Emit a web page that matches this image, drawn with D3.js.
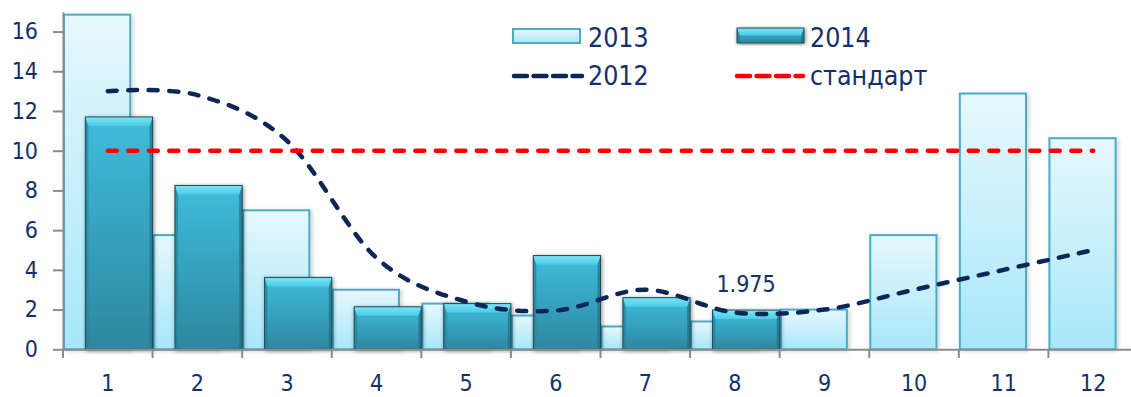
<!DOCTYPE html>
<html>
<head>
<meta charset="utf-8">
<script src="https://cdn.jsdelivr.net/npm/d3@7"></script>
<style>
  body { margin: 0; background: #fff; }
  svg { display: block; }
  .tick text { font-family: "DejaVu Sans Condensed", "DejaVu Sans", sans-serif; fill: #14306a; }
</style>
</head>
<body>
<script>
var categories = ['1','2','3','4','5','6','7','8','9','10','11','12']
var values2013 = [16.85, 5.75, 7.0, 3.0, 2.3, 1.7, 1.15, 1.4, 2.0, 5.75, 12.88, 10.63]
var values2014 = [11.7, 8.25, 3.62, 2.14, 2.3, 4.72, 2.6, 1.975, null, null, null, null]
var values2012 = [13.0, 12.8, 10.5, 4.6, 2.4, 1.95, 3.0, 1.85, 2.0, 3.0, 4.0, 5.0]
var standard = [10, 10, 10, 10, 10, 10, 10, 10, 10, 10, 10, 10]
var yTicks = [0, 2, 4, 6, 8, 10, 12, 14, 16]
var labelled = {'8': '1.975'}

var W = 1131, H = 397
var navy = '#0d2658'
var textColor = '#14306a'

var svg = d3.select('body').append('svg')
    .attr('width', W)
    .attr('height', H)

var defs = svg.append('defs')

var g13 = defs.append('linearGradient').attr('id', 'g13')
    .attr('x1', 0).attr('y1', 0).attr('x2', 0).attr('y2', 1)
g13.append('stop').attr('offset', '0%').attr('stop-color', '#e6f8fd')
g13.append('stop').attr('offset', '100%').attr('stop-color', '#a7e7f9')

var g14 = defs.append('linearGradient').attr('id', 'g14')
    .attr('x1', 0).attr('y1', 0).attr('x2', 0).attr('y2', 1)
g14.append('stop').attr('offset', '0%').attr('stop-color', '#3ebddc')
g14.append('stop').attr('offset', '100%').attr('stop-color', '#2d879f')

var gTop = defs.append('linearGradient').attr('id', 'gTop')
    .attr('x1', 0).attr('y1', 0).attr('x2', 0).attr('y2', 1)
gTop.append('stop').attr('offset', '0%').attr('stop-color', '#7ae6f7')
gTop.append('stop').attr('offset', '100%').attr('stop-color', '#4ccbe6')

var sh = defs.append('filter').attr('id', 'shadow')
    .attr('x', '-20%').attr('y', '-20%').attr('width', '140%').attr('height', '140%')
sh.append('feDropShadow').attr('dx', 1).attr('dy', 1).attr('stdDeviation', 2)
    .attr('flood-color', '#000').attr('flood-opacity', 0.45)

var shLight = defs.append('filter').attr('id', 'shadowLight')
    .attr('x', '-20%').attr('y', '-20%').attr('width', '140%').attr('height', '140%')
shLight.append('feDropShadow').attr('dx', 2).attr('dy', 1).attr('stdDeviation', 2)
    .attr('flood-color', '#000').attr('flood-opacity', 0.18)

var x = d3.scaleBand()
    .domain(categories)
    .range([63, 1138])
    .padding(0)

var y = d3.scaleLinear()
    .domain([0, 17])
    .range([349.3, 11.7])

var bw = x.bandwidth()
var barW = bw * 0.75

// bars 2013
svg.append('g').selectAll('rect')
    .data(values2013)
    .enter().append('rect')
      .attr('x', (d, i) => x(categories[i]) + 1)
      .attr('y', d => y(d))
      .attr('width', barW - 1)
      .attr('height', d => y(0) - y(d))
      .attr('fill', 'url(#g13)')
      .attr('stroke', '#4aacc6')
      .attr('stroke-width', 2)
      .attr('filter', 'url(#shadowLight)')

// bars 2014 with a bevelled top
function bevelBar(sel, x0, y0, w, h) {
  var b = Math.min(9, h / 2)
  var s = 3
  var gb = sel.append('g').attr('filter', 'url(#shadow)')
  gb.append('rect')
    .attr('x', x0).attr('y', y0).attr('width', w).attr('height', h)
    .attr('fill', 'url(#g14)')
  gb.append('polygon')
    .attr('points', [[x0, y0], [x0 + s, y0 + b], [x0 + s, y0 + h], [x0, y0 + h]].join(' '))
    .attr('fill', '#2a7f97').attr('opacity', 0.7)
  gb.append('polygon')
    .attr('points', [[x0 + w, y0], [x0 + w - s, y0 + b], [x0 + w - s, y0 + h], [x0 + w, y0 + h]].join(' '))
    .attr('fill', '#236f85').attr('opacity', 0.7)
  gb.append('polygon')
    .attr('points', [[x0, y0], [x0 + w, y0], [x0 + w - s, y0 + b], [x0 + s, y0 + b]].join(' '))
    .attr('fill', 'url(#gTop)')
  gb.append('rect')
    .attr('x', x0).attr('y', y0).attr('width', w).attr('height', h)
    .attr('fill', 'none').attr('stroke', '#1c4c5a').attr('stroke-width', 1)
}

var bars14 = svg.append('g')
values2014.forEach(function(v, i) {
  if (v === null) return
  var x0 = x(categories[i]) + bw * 0.25
  bevelBar(bars14, x0, y(v), barW, y(0) - y(v))
})

// axes
var yAxis = svg.append('g')
    .attr('transform', 'translate(63,0)')
    .call(d3.axisLeft(y).tickValues(yTicks).tickSize(10).tickSizeOuter(0).tickPadding(15))
yAxis.select('.domain').attr('stroke', '#8a8a8a').attr('stroke-width', 2)
yAxis.selectAll('.tick line').attr('stroke', '#8a8a8a').attr('stroke-width', 2)
yAxis.selectAll('.tick text').attr('font-size', 23)

var xAxis = svg.append('g')
    .attr('transform', 'translate(0,349.3)')
    .call(d3.axisBottom(x).tickSize(0).tickSizeOuter(0).tickPadding(25))
xAxis.select('.domain').attr('stroke', '#8a8a8a').attr('stroke-width', 2)
xAxis.selectAll('.tick text').attr('font-size', 23)

svg.append('g').selectAll('line')
    .data(categories)
    .enter().append('line')
      .attr('x1', d => x(d)).attr('x2', d => x(d))
      .attr('y1', 349.3).attr('y2', 358)
      .attr('stroke', '#8a8a8a').attr('stroke-width', 2)

// lines
var line = d3.line()
    .x((d, i) => x(categories[i]) + bw / 2)
    .y(d => y(d))
    .curve(d3.curveCardinal.tension(0))

svg.append('path')
    .datum(values2012)
    .attr('d', line)
    .attr('fill', 'none')
    .attr('stroke', navy)
    .attr('stroke-width', 4.5)
    .attr('stroke-dasharray', '9 11.5')
    .attr('stroke-linecap', 'round')

svg.append('path')
    .datum(standard)
    .attr('d', d3.line().x((d, i) => x(categories[i]) + bw / 2).y(d => y(d)))
    .attr('fill', 'none')
    .attr('stroke', '#ff0000')
    .attr('stroke-width', 4.5)
    .attr('stroke-dasharray', '9 11.5')
    .attr('stroke-linecap', 'round')

// data label
values2014.forEach(function(v, i) {
  if (!labelled[categories[i]]) return
  svg.append('text')
    .attr('x', x(categories[i]) + bw * 0.25 + barW / 2)
    .attr('y', y(v) - 18)
    .attr('text-anchor', 'middle')
    .attr('font-family', '"DejaVu Sans Condensed", "DejaVu Sans", sans-serif')
    .attr('font-size', 23)
    .attr('fill', textColor)
    .text(labelled[categories[i]])
})

// legend
var legend = svg.append('g')
    .attr('font-family', '"DejaVu Sans Condensed", "DejaVu Sans", sans-serif')
    .attr('font-size', 26.5)
    .attr('fill', textColor)

legend.append('rect')
    .attr('x', 513).attr('y', 29).attr('width', 67).attr('height', 14)
    .attr('fill', 'url(#g13)').attr('stroke', '#4aacc6').attr('stroke-width', 2)
legend.append('text').attr('x', 588).attr('y', 46.5).text('2013')

var lg14 = legend.append('g')
bevelBar(lg14, 737, 28, 67, 15)
legend.append('text').attr('x', 810).attr('y', 46.5).text('2014')

legend.append('line')
    .attr('x1', 512).attr('x2', 580).attr('y1', 76).attr('y2', 76)
    .attr('stroke', navy).attr('stroke-width', 4.5)
    .attr('stroke-dasharray', '13 6.5').attr('stroke-linecap', 'round')
    .attr('transform', 'translate(2,0)')
legend.append('text').attr('x', 588).attr('y', 84.5).text('2012')

legend.append('line')
    .attr('x1', 737).attr('x2', 803).attr('y1', 76).attr('y2', 76)
    .attr('stroke', '#ff0000').attr('stroke-width', 4.5)
    .attr('stroke-dasharray', '13 6.5').attr('stroke-linecap', 'round')
legend.append('text').attr('x', 810).attr('y', 84.5).text('стандарт')
</script>
</body>
</html>
